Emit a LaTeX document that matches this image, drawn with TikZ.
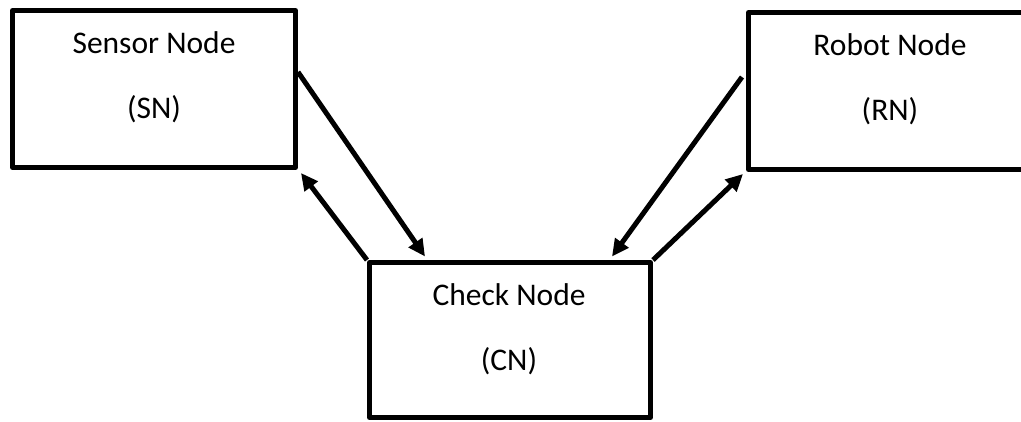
\documentclass[tikz,border=0pt]{standalone}
\usepackage{fontspec}
\setmainfont{Carlito}
\usetikzlibrary{arrows.meta}
\begin{document}
\begin{tikzpicture}[x=1pt,y=-1pt,
  box/.style={draw,line width=5pt,line join=round,minimum width=#1,inner sep=0pt,
              minimum height=157pt},
  box/.default=283pt,
  lbl/.style={anchor=base,inner sep=0pt,font=\fontsize{31.5}{38}\selectfont},
  arr/.style={line width=5pt,-{Triangle[length=17pt,width=16pt]}}]
\clip (0,0) rectangle (1021,421);
\fill[white] (0,0) rectangle (1021,421);

% boxes
\node[box] (sn) at (154,89) {};
\node[box=283.5pt] (rn) at (890.25,91) {};
\node[box=281pt,minimum height=155pt] (cn) at (510,340) {};

% labels
\node[lbl] (sn1) at (154,53) {Sensor Node};
\node[lbl] (sn2) at (154,118) {(SN)};
\node[lbl] (rn1) at (890,55) {Robot Node};
\node[lbl] (rn2) at (890,120) {(RN)};
\node[lbl] (cn1) at (509,305) {Check Node};
\node[lbl] (cn2) at (509,370) {(CN)};

% connectors
\draw[arr] ([yshift=17pt]sn.east) -- ([xshift=-85pt,yshift=3.5pt]cn.north);
\draw[arr] (cn.north west) -- ([shift={(3pt,-3pt)}]sn.south east);
\draw[arr] ([xshift=-4pt,yshift=14pt]rn.west) -- ([xshift=102pt,yshift=3.5pt]cn.north);
\draw[arr] (cn.north east) -- ([shift={(-3pt,-2pt)}]rn.south west);
\end{tikzpicture}
\end{document}
